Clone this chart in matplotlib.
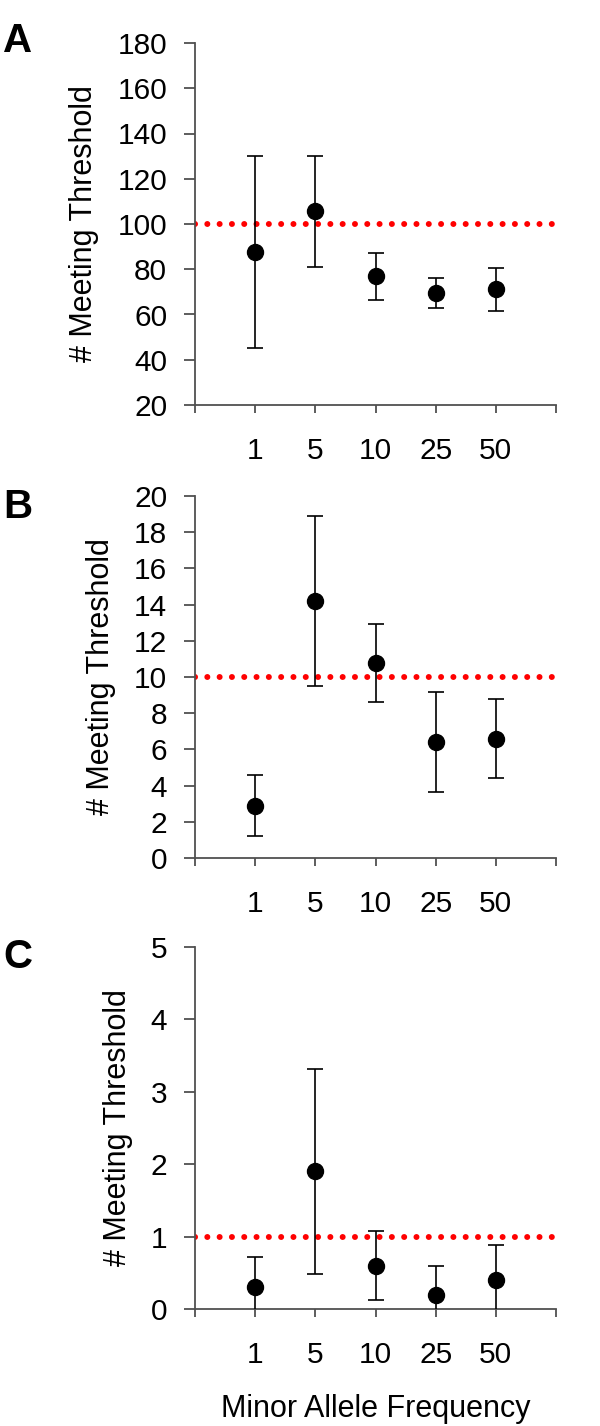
import numpy as np
import matplotlib
matplotlib.use("Agg")
import matplotlib.pyplot as plt

plt.rcParams['font.family'] = ['Liberation Sans', 'DejaVu Sans']

# minor allele frequency categories (x axis)
maf = ['1', '5', '10', '25', '50']

# panel A
mean_a = [87.7, 105.7, 76.9, 69.4, 71.1]
lo_a = [45.3, 81.0, 66.4, 63.0, 61.4]
hi_a = [130.1, 130.0, 87.2, 76.0, 80.6]
thr_a = 100

# panel B
mean_b = [2.9, 14.2, 10.8, 6.4, 6.6]
lo_b = [1.2, 9.5, 8.6, 3.65, 4.4]
hi_b = [4.6, 18.9, 12.95, 9.15, 8.8]
thr_b = 10

# panel C (lower whiskers run below zero and get clipped)
mean_c = [0.3, 1.9, 0.6, 0.2, 0.4]
lo_c = [-0.12, 0.49, 0.12, -0.19, -0.07]
hi_c = [0.72, 3.31, 1.08, 0.59, 0.88]
thr_c = 1

panels = [
    ('A', mean_a, lo_a, hi_a, thr_a, (20, 180), np.arange(20, 181, 20)),
    ('B', mean_b, lo_b, hi_b, thr_b, (0, 20), np.arange(0, 21, 2)),
    ('C', mean_c, lo_c, hi_c, thr_c, (0, 5), np.arange(0, 6, 1)),
]

W, H = 600, 1426
fig = plt.figure(figsize=(W / 100, H / 100), dpi=100)

# axes boxes in pixels: (top, bottom)
boxes = [(43, 405), (496, 858), (947, 1309)]
letter_base = [52, 518, 968]
x_left, x_right = 195, 556
spine_col = '#505050'

for (letter, mean, lo, hi, thr, ylim, yticks), (top, bot), lb in zip(panels, boxes, letter_base):
    ax = fig.add_axes([x_left / W, 1 - bot / H, (x_right - x_left) / W, (bot - top) / H])
    x = np.arange(1, len(maf) + 1)
    mean = np.array(mean)
    yerr = [mean - np.array(lo), np.array(hi) - mean]

    ax.plot([0, 6], [thr, thr], color='#ff0000', lw=4.3,
            linestyle=(0, (0.01, 2.05)), dash_capstyle='round', zorder=2)
    ax.errorbar(x, mean, yerr=yerr, fmt='o', color='black', ms=11.5,
                ecolor='black', elinewidth=1.2, capsize=6, capthick=1.2, zorder=3)

    ax.set_xlim(0, 6)
    ax.set_ylim(*ylim)
    ax.set_yticks(yticks)
    ax.set_xticks(np.arange(0, 7))
    ax.set_xticklabels([''] + maf + [''])
    for s in ['top', 'right']:
        ax.spines[s].set_visible(False)
    for s in ['left', 'bottom']:
        ax.spines[s].set_color(spine_col)
        ax.spines[s].set_linewidth(1.3)
    ax.tick_params(axis='y', direction='out', length=8, width=1.3, color=spine_col,
                   labelsize=21.5, pad=12)
    ax.tick_params(axis='x', direction='out', length=6, width=1.3, color=spine_col,
                   labelsize=21.5, pad=17)
    ax.set_ylabel('# Meeting Threshold', fontsize=22, labelpad=13)

    fig.text(3 / W, 1 - lb / H, letter, fontsize=29, fontweight='bold',
             ha='left', va='baseline')

    if letter == 'C':
        ax.set_xlabel('Minor Allele Frequency', fontsize=22, labelpad=18)

fig.savefig('out.png', dpi=100)
